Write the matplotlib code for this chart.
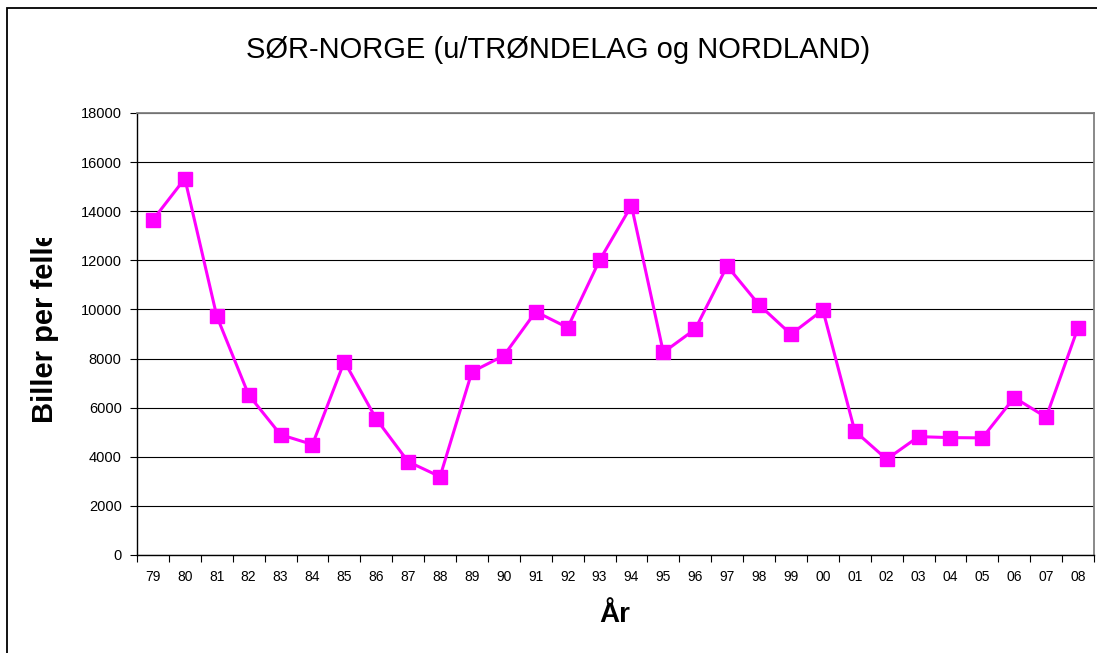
import numpy as np
import matplotlib
matplotlib.use("Agg")
import matplotlib.pyplot as plt
from matplotlib.patches import Rectangle
from matplotlib.transforms import Bbox

plt.rcParams['font.family'] = ['Liberation Sans', 'DejaVu Sans']

# data
years = ['79', '80', '81', '82', '83', '84', '85', '86', '87', '88',
         '89', '90', '91', '92', '93', '94', '95', '96', '97', '98',
         '99', '00', '01', '02', '03', '04', '05', '06', '07', '08']
biller = [13650, 15330, 9730, 6520, 4900, 4500, 7880, 5540, 3800, 3190,
          7460, 8120, 9910, 9260, 12000, 14230, 8250, 9200, 11770, 10190,
          8990, 9980, 5050, 3900, 4820, 4780, 4770, 6410, 5610, 9260]
y_ticks = np.arange(0, 18001, 2000)

fig = plt.figure(figsize=(10.97, 6.53), dpi=100)
ax = fig.add_axes([137 / 1097, 1 - 555 / 653, (1094 - 137) / 1097, (555 - 113) / 653])

x = np.arange(len(years))
ax.plot(x, biller, color='#FF00FF', lw=2.2, marker='s', markersize=9.5,
        markeredgecolor='#FF00FF', zorder=3, clip_on=False)

ax.set_xlim(-0.5, len(years) - 0.5)
ax.set_ylim(0, 18000)
ax.set_yticks(y_ticks)
ax.set_yticklabels([str(v) for v in y_ticks], fontsize=10.5)
ax.yaxis.grid(True, color='black', lw=0.8)
ax.set_axisbelow(True)

ax.set_xticks(x)
ax.set_xticklabels(years, fontsize=10)
ax.set_xticks(np.arange(-0.5, len(years)), minor=True)
ax.tick_params(axis='x', which='major', length=0, pad=11)
ax.tick_params(axis='x', which='minor', length=5, width=0.8, direction='out')
ax.tick_params(axis='y', length=5, width=0.8, direction='out', pad=6)

for side in ['top', 'right']:
    ax.spines[side].set_color('#808080')
    ax.spines[side].set_linewidth(1.3)
for side in ['left', 'bottom']:
    ax.spines[side].set_color('black')
    ax.spines[side].set_linewidth(1.0)

fig.text(558 / 1097, 1 - 50 / 653, 'SØR-NORGE (u/TRØNDELAG og NORDLAND)',
         fontsize=21, ha='center', va='center')
fig.text(615 / 1097, 1 - 615 / 653, 'År', fontsize=20, fontweight='bold',
         ha='center', va='center')

# y label is cut at the top in the original
ylab = fig.text(45 / 1097, 1 - 327 / 653, 'Biller per felle', fontsize=21,
                fontweight='bold', rotation=90, ha='center', va='center')
ylab.set_clip_box(Bbox.from_extents(0, 0, 1097, 653 - 238))
ylab.set_clip_on(True)

# chart border (cut at right and bottom like the original)
fig.patches.append(Rectangle((7 / 1097, -0.1), 1.2, 1 - 8 / 653 + 0.1,
                             transform=fig.transFigure, fill=False,
                             edgecolor='black', lw=1.3))

fig.savefig('out.png', dpi=100)
